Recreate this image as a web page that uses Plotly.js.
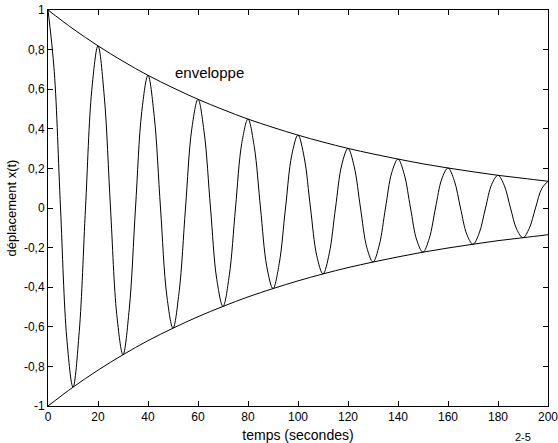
<!DOCTYPE html>
<html>
<head>
<meta charset="utf-8">
<script src="https://cdn.plot.ly/plotly-3.0.1.min.js"></script>
<style>html,body{margin:0;padding:0;background:#fff;}#chart{width:558px;height:443px;}</style>
</head>
<body>
<div id="chart"></div>
<script>
// time samples (s), every 2.5 s
var tSignal = [];
for (var k = 0; k <= 80; k++) tSignal.push(k * 2.5);
// displacement values
var xSignal = [
  1.00, 0.69, 0, -0.656, -0.905, -0.624, 0, 0.594,
  0.819, 0.565, 0, -0.537, -0.741, -0.511, 0, 0.486,
  0.670, 0.462, 0, -0.440, -0.607, -0.418, 0, 0.398,
  0.549, 0.379, 0, -0.360, -0.497, -0.342, 0, 0.326,
  0.449, 0.310, 0, -0.295, -0.407, -0.280, 0, 0.267,
  0.368, 0.254, 0, -0.241, -0.333, -0.230, 0, 0.218,
  0.301, 0.208, 0, -0.198, -0.273, -0.188, 0, 0.179,
  0.247, 0.170, 0, -0.162, -0.223, -0.154, 0, 0.146,
  0.202, 0.139, 0, -0.132, -0.183, -0.126, 0, 0.120,
  0.165, 0.114, 0, -0.108, -0.150, -0.103, 0, 0.098,
  0.135
];
// envelope, every 10 s
var tEnv = [0,10,20,30,40,50,60,70,80,90,100,110,120,130,140,150,160,170,180,190,200];
var envUpper = [1.000,0.905,0.819,0.741,0.670,0.607,0.549,0.497,0.449,0.407,0.368,0.333,0.301,0.273,0.247,0.223,0.202,0.183,0.165,0.150,0.135];
var envLower = envUpper.map(function(v){ return -v; });

var xTickVals = [0,20,40,60,80,100,120,140,160,180,200];
var xTickText = ['0','20','40','60','80','100','120','140','160','180','200'];
var yTickVals = [-1,-0.8,-0.6,-0.4,-0.2,0,0.2,0.4,0.6,0.8,1];
var yTickText = ['-1','-0,8','-0,6','-0,4','-0,2','0','0,2','0,4','0,6','0,8','1'];

var lineStyle = {color:'#000', width:1, shape:'spline', smoothing:1};
var traces = [
  {x:tSignal, y:xSignal, mode:'lines', line:lineStyle, hoverinfo:'none'},
  {x:tEnv, y:envUpper, mode:'lines', line:lineStyle, hoverinfo:'none'},
  {x:tEnv, y:envLower, mode:'lines', line:lineStyle, hoverinfo:'none'}
];
var fam = '"Liberation Sans", Arial, sans-serif';
var fnt = {family:fam, size:12, color:'#000'};
var axisCommon = {
  showgrid:false, zeroline:false, showline:true, linecolor:'#000', linewidth:1,
  mirror:'ticks', ticks:'inside', ticklen:5, tickcolor:'#000', tickwidth:1,
  tickfont:fnt, tickmode:'array', ticklabeloverflow:'allow'
};
var layout = {
  width:558, height:443,
  margin:{l:48, r:10, t:10, b:37},
  paper_bgcolor:'#fff', plot_bgcolor:'#fff',
  showlegend:false,
  font:fnt,
  xaxis:Object.assign({}, axisCommon, {
    range:[0,200], tickvals:xTickVals, ticktext:xTickText,
    title:{text:'temps (secondes)', font:{family:fam, size:14, color:'#000'}, standoff:6}
  }),
  yaxis:Object.assign({}, axisCommon, {
    range:[-1,1], tickvals:yTickVals, ticktext:yTickText,
    title:{text:'déplacement x(t)', font:{family:fam, size:13, color:'#000'}, standoff:4}
  }),
  annotations:[
    {x:64.4, y:0.682, xref:'x', yref:'y', text:'enveloppe', showarrow:false,
     font:{family:fam, size:15, color:'#000'}},
    {x:(523-48)/500, y:-(437-406)/396, xref:'paper', yref:'paper', text:'2-5', showarrow:false,
     xanchor:'center', yanchor:'middle',
     font:{family:fam, size:11, color:'#000'}}
  ]
};
Plotly.newPlot('chart', traces, layout, {staticPlot:true, displayModeBar:false});
</script>
</body>
</html>
